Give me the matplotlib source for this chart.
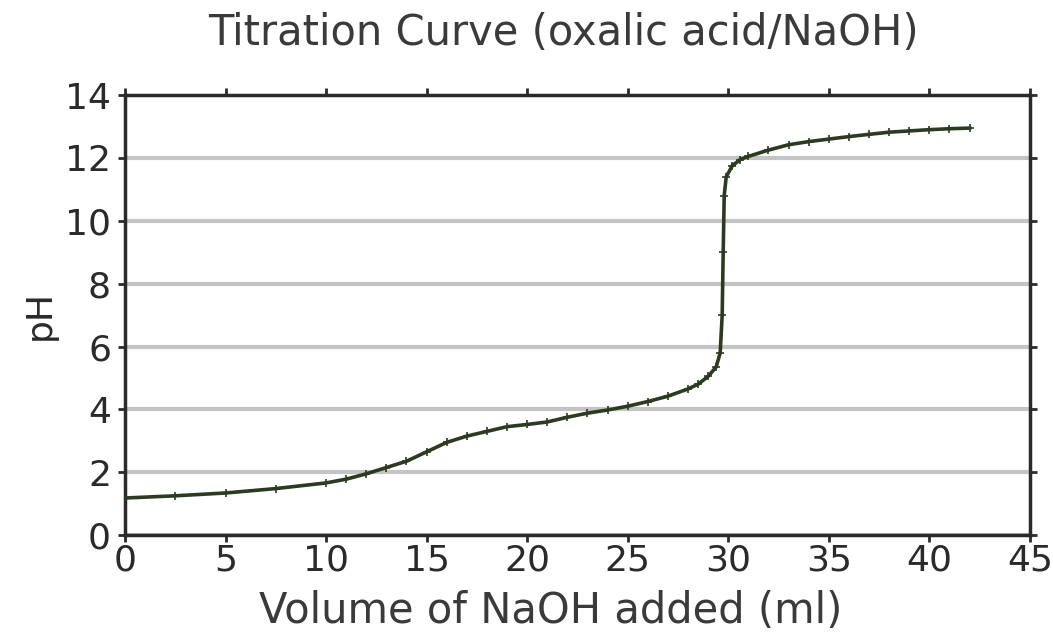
import matplotlib.pyplot as plt

# ==============================================
# Dados lidos da curva de titulação
# ==============================================

volume_ml = [0, 2.5, 5, 7.5, 10, 11, 12, 13, 14, 15, 16, 17, 18, 19, 20,
             21, 22, 23, 24, 25, 26, 27, 28, 28.5, 29, 29.4, 29.6, 29.7,
             29.75, 29.8, 29.9, 30.2, 30.6, 31, 32, 33, 34, 35, 36, 37,
             38, 39, 40, 41, 42]
ph_values = [1.18, 1.25, 1.34, 1.48, 1.66, 1.78, 1.95, 2.15, 2.35, 2.65,
             2.95, 3.15, 3.3, 3.45, 3.52, 3.6, 3.75, 3.88, 3.98, 4.1, 4.25,
             4.42, 4.65, 4.8, 5.05, 5.35, 5.8, 7.0, 9.0, 10.8, 11.4, 11.75,
             11.95, 12.05, 12.25, 12.42, 12.52, 12.6, 12.68, 12.75, 12.82,
             12.86, 12.9, 12.93, 12.95]

x_ticks = [0, 5, 10, 15, 20, 25, 30, 35, 40, 45]
y_ticks = [0, 2, 4, 6, 8, 10, 12, 14]

# fonte mais larga, o original tem texto esticado na horizontal
plt.rcParams['font.family'] = ['DejaVu Sans']

fig = plt.figure(figsize=(10.53, 6.34), dpi=100)
ax = fig.add_axes([0.1187, 0.156, 0.8593, 0.694])

ax.plot(volume_ml, ph_values, color='#2d3a22', linewidth=2.6,
        marker='+', markersize=6, markeredgewidth=1.2, zorder=3)

ax.set_xlim(0, 45)
ax.set_ylim(0, 14)
ax.set_xticks(x_ticks)
ax.set_yticks(y_ticks)
ax.yaxis.grid(True, color='#c4c4c4', linewidth=3)
ax.set_axisbelow(True)

for spine in ax.spines.values():
    spine.set_linewidth(2.5)
    spine.set_color('#2a2a2a')

ax.tick_params(axis='both', which='major', direction='out', length=5,
               width=2, labelsize=26, colors='#2a2a2a', pad=5,
               top=True, right=True)
ax.tick_params(axis='x', pad=1)

ax.set_title('Titration Curve (oxalic acid/NaOH)', fontsize=30,
             color='#3a3a3a', pad=36, x=0.485)
ax.set_xlabel('Volume of NaOH added (ml)', fontsize=30, color='#3a3a3a',
              labelpad=9, x=0.471)
ax.set_ylabel('pH', fontsize=26, color='#2a2a2a', labelpad=6)

fig.savefig('out.png', dpi=100)
